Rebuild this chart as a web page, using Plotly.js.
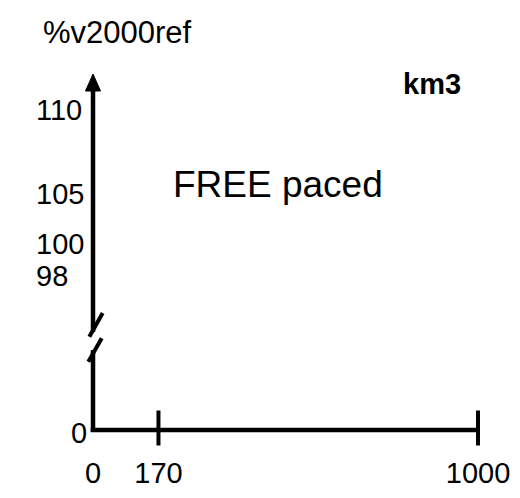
<!DOCTYPE html>
<html>
<head>
<meta charset="utf-8">
<script src="https://cdn.plot.ly/plotly-3.0.1.min.js"></script>
<style>html,body{margin:0;padding:0;background:#fff;}#chart{width:520px;height:498px;}</style>
</head>
<body>
<div id="chart"></div>
<script>
// Schematic axis diagram data
var xTickValues = [0, 170, 1000];
var xTickLabels = ['0', '170', '1000'];
var xTickMarks = [170, 1000];
var yTickLabels = ['110', '105', '100', '98'];
var yZeroLabel = '0';
var yTitle = '%v2000ref';
var unitLabel = 'km3';
var centerLabel = 'FREE paced';

// schematic label heights (plot units: 1 unit = 1 px above the x axis)
var yLabelPos = [320, 236, 186, 154];

var FONT = 'Liberation Sans, Arial, sans-serif';
var BLACK = '#000000';
var LW = 4.5;

var traces = [{
  type: 'scatter',
  mode: 'markers',
  x: xTickMarks,
  y: xTickMarks.map(function () { return 2; }),
  marker: {symbol: 'line-ns', size: 25, color: BLACK, line: {color: BLACK, width: 4}},
  cliponaxis: false,
  hoverinfo: 'skip',
  showlegend: false
}];

var shapes = [
  // y axis upper part
  {type: 'line', xref: 'x', yref: 'y', x0: 0, x1: 0, y0: 98, y1: 342, line: {color: BLACK, width: LW}},
  // y axis lower part
  {type: 'line', xref: 'x', yref: 'y', x0: 0, x1: 0, y0: -2, y1: 80, line: {color: BLACK, width: LW}},
  // break slashes
  {type: 'line', xref: 'x', yref: 'y', x0: -9.6, y0: 93.3, x1: 25.2, y1: 117, line: {color: BLACK, width: 4}},
  {type: 'line', xref: 'x', yref: 'y', x0: -12.2, y0: 68.3, x1: 22.6, y1: 91.7, line: {color: BLACK, width: 4}},
  // arrow head
  {type: 'path', xref: 'x', yref: 'y', path: 'M -19.5 339 L 19.5 339 L 0 356 Z', fillcolor: BLACK, line: {color: BLACK, width: 1}},
  // x axis
  {type: 'line', xref: 'x', yref: 'y', x0: -6, x1: 1002, y0: 0, y1: 0, line: {color: BLACK, width: LW}}
];

var annotations = [];
yTickLabels.forEach(function (t, i) {
  annotations.push({
    text: t, xref: 'paper', yref: 'y', x: 0.0654, y: yLabelPos[i],
    xanchor: 'left', yanchor: 'middle', showarrow: false,
    font: {family: FONT, size: 29, color: BLACK}
  });
});
annotations.push({
  text: yZeroLabel, xref: 'paper', yref: 'paper', x: 0.1712, y: 0.1305,
  xanchor: 'right', yanchor: 'middle', showarrow: false,
  font: {family: FONT, size: 29, color: BLACK}
});
annotations.push({
  text: yTitle, xref: 'paper', yref: 'paper', x: 0.2269, y: 0.9357,
  xanchor: 'center', yanchor: 'middle', showarrow: false,
  font: {family: FONT, size: 31, color: BLACK}
});
annotations.push({
  text: '<b>' + unitLabel + '</b>', xref: 'paper', yref: 'paper', x: 0.8308, y: 0.8313,
  xanchor: 'center', yanchor: 'middle', showarrow: false,
  font: {family: FONT, size: 29, color: BLACK}
});
annotations.push({
  text: centerLabel, xref: 'paper', yref: 'paper', x: 0.5346, y: 0.6305,
  xanchor: 'center', yanchor: 'middle', showarrow: false,
  font: {family: FONT, size: 37, color: BLACK}
});

var layout = {
  width: 520, height: 498,
  margin: {l: 0, r: 0, t: 0, b: 0, pad: 0},
  paper_bgcolor: '#ffffff', plot_bgcolor: '#ffffff',
  showlegend: false,
  xaxis: {
    range: [-241.6, 1109.1], fixedrange: true,
    anchor: 'free', position: 0.13655,
    tickmode: 'array', tickvals: xTickValues, ticktext: xTickLabels,
    ticks: '', showgrid: false, zeroline: false, showline: false,
    ticklabelstandoff: 23,
    tickfont: {family: FONT, size: 29, color: BLACK}
  },
  yaxis: {
    range: [-68, 430], fixedrange: true,
    showticklabels: false, ticks: '', showgrid: false, zeroline: false, showline: false
  },
  shapes: shapes,
  annotations: annotations
};

Plotly.newPlot('chart', traces, layout, {displayModeBar: false, staticPlot: true});
</script>
</body>
</html>
